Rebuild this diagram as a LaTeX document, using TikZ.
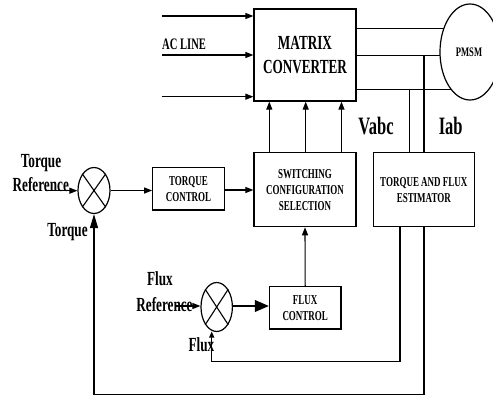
\documentclass[tikz,border=0pt]{standalone}
\usepackage{fontspec}
\setmainfont{Liberation Serif}
\newfontfamily\narrowserif[FakeStretch=0.66]{Liberation Serif}
\usetikzlibrary{arrows.meta,backgrounds,calc,shapes.geometric}

\tikzset{
  block/.style={draw, line width=1.2pt, inner sep=0pt, align=center,
    font=\narrowserif\bfseries\fontsize{13.6}{16}\selectfont},
  summer/.style={draw, ellipse, line width=1.2pt, inner sep=0pt},
  wire/.style={line width=1.1pt},
  arr/.style={wire, -{Triangle[length=8pt,width=6pt]}},
  bigarr/.style={wire, -{Triangle[length=14pt,width=12pt]}},
  tallarr/.style={wire, -{Triangle[length=14pt,width=8pt]}},
  smallarr/.style={wire, -{Triangle[length=6pt,width=5pt]}},
  lbl/.style={inner sep=0pt, anchor=base,
    font=\narrowserif\bfseries\fontsize{20}{24}\selectfont},
}

\begin{document}
\begin{tikzpicture}[x=1pt,y=-1pt]
\useasboundingbox (0,0) rectangle (493,396);
\clip (0,0) rectangle (493,396);

% blocks
\node[block, minimum width=102pt, minimum height=92pt,
  font=\narrowserif\bfseries\fontsize{20}{24}\selectfont]
  (conv) at (305,55) {MATRIX\\CONVERTER};
\node[block, minimum width=102pt, minimum height=74pt]
  (sw) at (305,189.7) {SWITCHING\\CONFIGURATION\\SELECTION};
\node[block, minimum width=101pt, minimum height=74pt]
  (est) at (423.8,189.7) {TORQUE AND FLUX\\ESTIMATOR};
\node[block, minimum width=71.6pt, minimum height=42.3pt]
  (tc) at (188.5,188.8) {TORQUE\\CONTROL};
\node[block, minimum width=71.7pt, minimum height=42.3pt]
  (fc) at (305.2,307.8) {FLUX\\CONTROL};

% motor
\node[draw, ellipse, fill=white, line width=1.2pt, inner sep=0pt,
  minimum width=60pt, minimum height=96pt,
  font=\narrowserif\bfseries\fontsize{13}{15}\selectfont]
  (pmsm) at (470,52) {\hspace*{-2pt}PMSM};

% summing junctions
\node[summer, minimum width=32pt, minimum height=46pt] (tsum) at (94,190.5) {};
\node[summer, minimum width=31.4pt, minimum height=49pt] (fsum) at (216.7,307) {};
\foreach \s in {tsum,fsum}{
  \draw[wire] (\s.north west) -- (\s.south east)
              (\s.north east) -- (\s.south west);
}

% supply lines
\coordinate (ac1) at (162,16);
\coordinate (ac2) at (162,55);
\coordinate (ac3) at (162,96.7);
\foreach \c in {ac1,ac2,ac3}{
  \draw[arr] (\c) -- (\c -| conv.west);
}
\node[inner sep=0pt, anchor=west,
  font=\narrowserif\bfseries\fontsize{16}{19}\selectfont]
  (acl) at (162,44.7) {AC\,LINE};

% converter output phases to the motor
\coordinate (ph1) at (400,28.3);
\coordinate (ph2) at (400,55.7);
\coordinate (ph3) at (400,89.3);
\begin{scope}[on background layer]
  \foreach \c in {ph1,ph2,ph3}{
    \draw[wire] (\c -| conv.east) -- (\c -| pmsm.center);
  }
\end{scope}

% measurement taps into the estimator
\coordinate (tapv) at (409.6,89.3);
\coordinate (tapi) at (424,55.7);
\draw[wire] (tapv) -- (tapv |- est.north);
\draw[wire] (tapi) -- (tapi |- est.north);
\node[lbl, font=\narrowserif\bfseries\fontsize{25}{30}\selectfont]
  (vabc) at (376,135) {Vabc};
\node[lbl, font=\narrowserif\bfseries\fontsize{25}{30}\selectfont]
  (iab) at (450.7,135) {Iab};

% switching signals to the converter
\foreach \x in {269.3,305.7,341.5}{
  \draw[arr] (sw.north -| \x,0) -- (conv.south -| \x,0);
}

% torque loop
\node[lbl] (tqref1) at (41,167.3) {Torque};
\node[lbl] (tqref2) at (40.8,191.5) {Reference};
\coordinate (tqin) at (45,190.7);
\draw[arr] (tqin) -- (tqin -| tsum.west);
\node[lbl] (tqfb) at (67.5,236) {Torque};
\draw[arr] (tsum.east) -- (tc.west |- tsum.east);
\draw[arr] (tc.east |- 0,190) -- (sw.west |- 0,190);

% flux loop
\node[lbl] (flref1) at (160,285) {Flux};
\node[lbl] (flref2) at (164.5,311.7) {Reference};
\coordinate (flin) at (175,306);
\draw[arr] (flin) -- (flin -| fsum.west);
\node[lbl] (flfb) at (201.5,351.7) {Flux};
\draw[bigarr] (fsum.east |- 0,306) -- (fc.west |- 0,306);
\draw[arr] (fc.north) -- (sw.south);

% estimator feedback paths
\coordinate (fbf) at (400,361.7);
\coordinate (fbt) at (424,394.5);
\draw[smallarr] (est.south -| fbf) -- (fbf) -- (fbf -| 211.7,0) -- (211.7,331.5);
\draw[tallarr] (est.south -| fbt) -- (fbt) -- (fbt -| tsum.south) -- (tsum.south);

\end{tikzpicture}
\end{document}
